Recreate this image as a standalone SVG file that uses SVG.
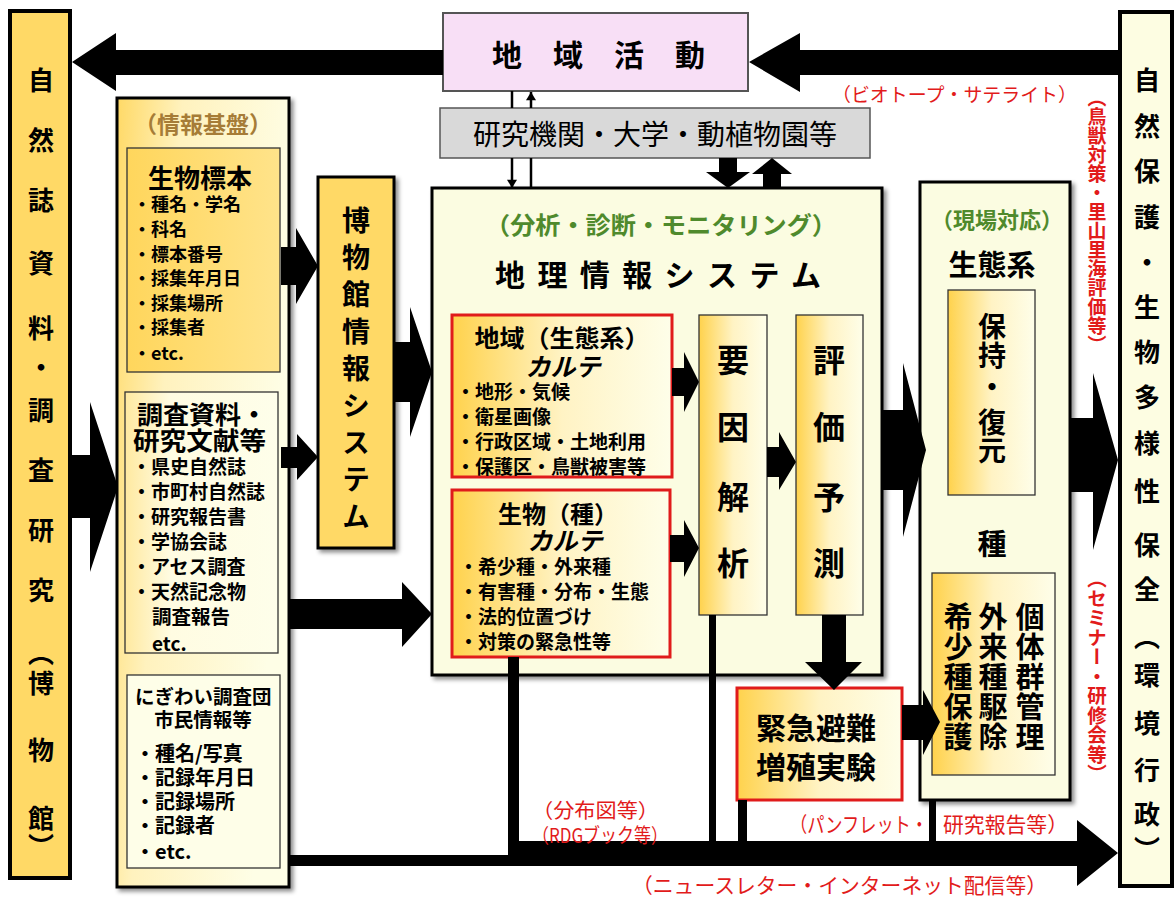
<svg xmlns="http://www.w3.org/2000/svg" width="1176" height="898" viewBox="0 0 1176 898">
<defs>
<style>
text { font-family: "Noto Sans CJK JP", "Noto Sans", sans-serif; dominant-baseline: central; fill: #000; }
.b { font-weight: 700; }
.v { writing-mode: vertical-rl; }
.red { fill: #E21B1B; }
.grn { fill: #4F8A2C; }
.brn { fill: #A67C37; }
.box { stroke: #000; stroke-width: 3; }
.thin { stroke: #333; stroke-width: 1.3; }
.rbox { stroke: #E01B1B; stroke-width: 3; }
.blk { fill: #000; }
.ln { stroke: #000; stroke-width: 2.5; fill: none; }
</style>
<linearGradient id="gold" x1="0" y1="0" x2="1" y2="0">
<stop offset="0" stop-color="#FFD24C"/><stop offset="0.5" stop-color="#FFF3C4"/><stop offset="1" stop-color="#FEFEE9"/>
</linearGradient>
<linearGradient id="info" x1="0" y1="0" x2="1" y2="0.3">
<stop offset="0" stop-color="#FFD966"/><stop offset="0.35" stop-color="#FFF2BE"/><stop offset="1" stop-color="#FEFEE6"/>
</linearGradient>
<linearGradient id="goldSolid" x1="0" y1="0" x2="1" y2="0">
<stop offset="0" stop-color="#FFD65C"/><stop offset="1" stop-color="#FFE38A"/>
</linearGradient>
<linearGradient id="cream" x1="0" y1="0" x2="1" y2="0">
<stop offset="0" stop-color="#FFE9A0"/><stop offset="0.3" stop-color="#FFFCE2"/><stop offset="1" stop-color="#FEFEEA"/>
</linearGradient>
<filter id="sh" x="-10%" y="-5%" width="130%" height="115%">
<feDropShadow dx="3" dy="3" stdDeviation="2" flood-color="#000" flood-opacity="0.45"/>
</filter>
<marker id="ah" viewBox="0 0 10 12" refX="10" refY="6" markerWidth="12" markerHeight="10" markerUnits="userSpaceOnUse" orient="auto">
<path d="M0,0 L10,6 L0,12 z" fill="#000"/>
</marker>
</defs>
<rect x="0" y="0" width="1176" height="898" fill="#fff"/>

<g id="museum-research">
<rect x="10" y="11" width="60" height="867" fill="#FFD966" stroke="#000" stroke-width="4"/>
<text class="v b" x="41" y="67 127 187 250 315 354 397 457 517 577 640 670 737 805 833" font-size="26">自然誌資料・調査研究（博物館）</text>
</g>

<g id="regional-activity">
<rect x="443" y="13" width="305" height="78" fill="#F8DFF6" stroke="#555" stroke-width="2"/>
<text class="b" x="492" y="53" font-size="30" letter-spacing="31">地域活動</text>
</g>

<g id="research-institutions">
<rect x="440" y="108" width="430" height="50" fill="#D9D9D9" stroke="#555" stroke-width="1.5"/>
<text x="655" y="133" font-size="28" text-anchor="middle">研究機関・大学・動植物園等</text>
</g>

<g id="info-base">
<rect x="117" y="98" width="172" height="789" fill="url(#info)" class="box" filter="url(#sh)"/>
<text class="b brn" x="203" y="123" font-size="23" text-anchor="middle">（情報基盤）</text>
</g>

<g id="specimens">
<rect x="127" y="148" width="153" height="224" fill="url(#goldSolid)" class="thin"/>
<text class="b" x="200" y="176" font-size="26" text-anchor="middle">生物標本</text>
<text class="b" x="133" y="203" font-size="18">・種名・学名</text>
<text class="b" x="133" y="228" font-size="18">・科名</text>
<text class="b" x="133" y="253" font-size="18">・標本番号</text>
<text class="b" x="133" y="277" font-size="18">・採集年月日</text>
<text class="b" x="133" y="302" font-size="18">・採集場所</text>
<text class="b" x="133" y="326" font-size="18">・採集者</text>
<text class="b" x="133" y="352" font-size="18">・etc.</text>
</g>

<g id="survey-docs">
<rect x="125" y="392" width="153" height="261" fill="url(#cream)" class="thin"/>
<text class="b" x="137" y="413" font-size="25" textLength="130" lengthAdjust="spacingAndGlyphs">調査資料・</text>
<text class="b" x="133" y="439" font-size="25" textLength="133" lengthAdjust="spacingAndGlyphs">研究文献等</text>
<text class="b" x="132" y="465" font-size="19">・県史自然誌</text>
<text class="b" x="132" y="490" font-size="19">・市町村自然誌</text>
<text class="b" x="132" y="515" font-size="19">・研究報告書</text>
<text class="b" x="132" y="540" font-size="19">・学協会誌</text>
<text class="b" x="132" y="565" font-size="19">・アセス調査</text>
<text class="b" x="132" y="590" font-size="19">・天然記念物</text>
<text class="b" x="152" y="615" font-size="19.5">調査報告</text>
<text class="b" x="152" y="642" font-size="19">etc.</text>
</g>

<g id="citizen-info">
<rect x="127" y="675" width="153" height="193" fill="#FEFEE8" class="thin"/>
<text class="b" x="135" y="695" font-size="19.5">にぎわい調査団</text>
<text class="b" x="203" y="718" font-size="19.5" text-anchor="middle">市民情報等</text>
<text class="b" x="135" y="752" font-size="20">・種名/写真</text>
<text class="b" x="135" y="776" font-size="20">・記録年月日</text>
<text class="b" x="135" y="800" font-size="20">・記録場所</text>
<text class="b" x="135" y="824" font-size="20">・記録者</text>
<text class="b" x="135" y="850" font-size="20">・etc.</text>
</g>

<g id="museum-info-system">
<rect x="318" y="177" width="76" height="371" fill="#FFD966" class="box" filter="url(#sh)"/>
<text class="v b" x="356" y="206 243 280 317 354 391 428 465 502" font-size="28">博物館情報システム</text>
</g>

<g id="gis">
<rect x="432" y="188" width="450" height="487" fill="#FBFCE1" class="box" filter="url(#sh)"/>
<text class="b grn" x="485" y="223" font-size="24" textLength="352" lengthAdjust="spacingAndGlyphs">（分析・診断・モニタリング）</text>
<text class="b" x="495" y="273" font-size="30" letter-spacing="12.4">地理情報システム</text>
</g>

<g id="region-karte">
<rect x="452" y="315" width="220" height="162" fill="url(#gold)" class="rbox"/>
<text class="b" x="562" y="336" font-size="24" text-anchor="middle" textLength="175" lengthAdjust="spacingAndGlyphs">地域（生態系）</text>
<text class="b" x="563" y="365" font-size="25" text-anchor="middle" font-style="italic">カルテ</text>
<text class="b" x="456" y="390" font-size="19">・地形・気候</text>
<text class="b" x="456" y="415" font-size="19">・衛星画像</text>
<text class="b" x="456" y="440" font-size="19">・行政区域・土地利用</text>
<text class="b" x="456" y="465" font-size="19">・保護区・鳥獣被害等</text>
</g>

<g id="species-karte">
<rect x="452" y="490" width="218" height="167" fill="url(#gold)" class="rbox"/>
<text class="b" x="558" y="512" font-size="24" text-anchor="middle">生物（種）</text>
<text class="b" x="565" y="539" font-size="25" text-anchor="middle" font-style="italic">カルテ</text>
<text class="b" x="459" y="565" font-size="19">・希少種・外来種</text>
<text class="b" x="459" y="590" font-size="19">・有害種・分布・生態</text>
<text class="b" x="459" y="615" font-size="19">・法的位置づけ</text>
<text class="b" x="459" y="640" font-size="19">・対策の緊急性等</text>
</g>

<g id="factor-analysis">
<rect x="699" y="315" width="68" height="300" fill="url(#gold)" class="thin"/>
<text class="v b" x="733" y="344 411 481 547" font-size="32">要因解析</text>
</g>

<g id="evaluation-prediction">
<rect x="796" y="315" width="67" height="300" fill="url(#gold)" class="thin"/>
<text class="v b" x="829" y="344 411 481 547" font-size="32">評価予測</text>
</g>

<g id="emergency">
<rect x="737" y="688" width="165" height="112" fill="url(#gold)" class="rbox"/>
<text class="b" x="816" y="726" font-size="30" text-anchor="middle">緊急避難</text>
<text class="b" x="816" y="765" font-size="30" text-anchor="middle">増殖実験</text>
</g>

<g id="field-response">
<rect x="920" y="182" width="150" height="618" fill="#FBFCE1" class="box" filter="url(#sh)"/>
<text class="b grn" x="997" y="218" font-size="22" text-anchor="middle">（現場対応）</text>
<text class="b" x="992" y="263" font-size="29" text-anchor="middle">生態系</text>
<text class="b" x="992" y="542" font-size="29" text-anchor="middle">種</text>
</g>

<g id="maintain-restore">
<rect x="948" y="290" width="87" height="205" fill="url(#gold)" class="thin"/>
<text class="v b" x="992" y="312 341 373 408 436" font-size="28">保持・復元</text>
</g>

<g id="species-management">
<rect x="932" y="573" width="123" height="202" fill="url(#gold)" class="thin"/>
<text class="v b" x="1030" y="602" font-size="29" letter-spacing="1">個体群管理</text>
<text class="v b" x="993" y="602" font-size="29" letter-spacing="1">外来種駆除</text>
<text class="v b" x="958" y="602" font-size="29" letter-spacing="1">希少種保護</text>
</g>

<g id="nature-conservation">
<rect x="1120" y="12" width="52" height="874" fill="#FDFDE2" stroke="#000" stroke-width="4"/>
<text class="v b" x="1147" y="67 113 158 204 249 294 339 384 430 478 532 576 624 662 710 757 801 836" font-size="26">自然保護・生物多様性保全（環境行政）</text>
</g>

<g id="connectors">
<polygon class="blk" points="72,62 116,33 116,50 443,50 443,75 116,75 116,91"/>
<polygon class="blk" points="749,62 800,33 800,50 1120,50 1120,75 800,75 800,92"/>
<line class="ln" x1="512" y1="91" x2="512" y2="108"/>
<line class="ln" x1="512" y1="158" x2="512" y2="188" marker-end="url(#ah)"/>
<line class="ln" x1="531" y1="188" x2="531" y2="158"/>
<line class="ln" x1="531" y1="108" x2="531" y2="92" marker-end="url(#ah)"/>
<polygon class="blk" points="719,158 737,158 737,172 750,172 728,188 706,172 719,172"/>
<polygon class="blk" points="772,158 792,174 781,174 781,188 763,188 763,174 752,174"/>
<polygon class="blk" points="72,455 90,455 90,402 118,487 90,572 90,518 72,518"/>
<polygon class="blk" points="281,247 296,247 296,228 318,266 296,304 296,285 281,285"/>
<polygon class="blk" points="281,447 297,447 297,434 318,457 297,480 297,468 281,468"/>
<polygon class="blk" points="394,342 410,342 410,307 432,372 410,437 410,402 394,402"/>
<polygon class="blk" points="289,599 402,599 402,582 432,614 402,647 402,629 289,629"/>
<polygon class="blk" points="672,368 684,368 684,352 699,382 684,412 684,396 672,396"/>
<polygon class="blk" points="670,535 684,535 684,520 699,548 684,577 684,562 670,562"/>
<polygon class="blk" points="767,447 779,447 779,432 796,462 779,490 779,477 767,477"/>
<polygon class="blk" points="822,615 846,615 846,662 862,662 834,690 805,662 822,662"/>
<polygon class="blk" points="902,705 923,705 923,690 940,722 923,755 923,740 902,740"/>
<polygon class="blk" points="882,410 903,410 903,363 926,450 903,537 903,490 882,490"/>
<polygon class="blk" points="1070,418 1093,418 1093,373 1118,460 1093,550 1093,492 1070,492"/>
<polygon class="blk" points="508,841 1077,841 1077,820 1118,853 1077,886 1077,866 289,866 289,855 508,855"/>
<rect class="blk" x="508" y="657" width="11" height="200"/>
<rect class="blk" x="709" y="615" width="7" height="230"/>
<rect class="blk" x="738" y="800" width="9" height="45"/>
<rect class="blk" x="929" y="800" width="7" height="45"/>
<text class="red" x="832" y="93" font-size="19" textLength="245" lengthAdjust="spacingAndGlyphs">（ビオトープ・サテライト）</text>
<text class="v b red" x="1097" y="88" font-size="19">（鳥獣対策・里山里海評価等）</text>
<text class="v b red" x="1097" y="569" font-size="19.5">（セミナー・研修会等）</text>
<text class="red" x="532" y="809" font-size="20" textLength="127" lengthAdjust="spacingAndGlyphs">（分布図等）</text>
<text class="red" x="532" y="834" font-size="20" textLength="136" lengthAdjust="spacingAndGlyphs">（RDGブック等）</text>
<text class="red" x="790" y="823" font-size="21" textLength="138" lengthAdjust="spacingAndGlyphs">（パンフレット・</text>
<text class="red" x="943" y="823" font-size="21" textLength="125" lengthAdjust="spacingAndGlyphs">研究報告等）</text>
<text class="red" x="632" y="884" font-size="21" textLength="415" lengthAdjust="spacingAndGlyphs">（ニュースレター・インターネット配信等）</text>
</g>
</svg>
